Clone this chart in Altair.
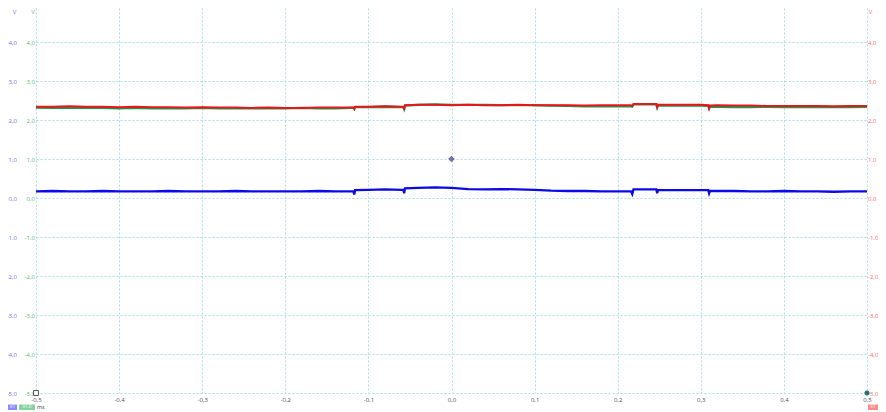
import altair as alt
import pandas as pd

# ---- data ----
time_ms = [-0.50, -0.48, -0.46, -0.44, -0.42, -0.40, -0.38, -0.36, -0.34, -0.32,
           -0.30, -0.28, -0.26, -0.24, -0.22, -0.20, -0.18, -0.16, -0.14, -0.12,
           -0.118, -0.117, -0.116,
           -0.10, -0.08, -0.06,
           -0.058, -0.057, -0.056,
           -0.04, -0.02, 0.00, 0.02, 0.04, 0.06, 0.08, 0.10, 0.12, 0.14, 0.16, 0.18, 0.20,
           0.216, 0.2175, 0.219,
           0.23, 0.24,
           0.2465, 0.2475, 0.2485,
           0.26, 0.28, 0.30,
           0.309, 0.310, 0.311,
           0.32, 0.34, 0.36, 0.38, 0.40, 0.42, 0.44, 0.46, 0.48, 0.50]

blue_v = [0.17, 0.18, 0.17, 0.17, 0.18, 0.17, 0.17, 0.17, 0.18, 0.17,
          0.17, 0.17, 0.18, 0.17, 0.17, 0.17, 0.17, 0.18, 0.17, 0.17,
          0.17, 0.09, 0.20,
          0.21, 0.22, 0.21,
          0.21, 0.12, 0.25,
          0.26, 0.27, 0.26, 0.23, 0.22, 0.23, 0.22, 0.21, 0.19, 0.18, 0.18, 0.17, 0.17,
          0.17, 0.10, 0.22,
          0.22, 0.22,
          0.22, 0.12, 0.20,
          0.20, 0.20, 0.20,
          0.20, 0.12, 0.18,
          0.18, 0.18, 0.17, 0.17, 0.18, 0.17, 0.17, 0.16, 0.17, 0.17]

green_v = [2.32, 2.31, 2.31, 2.31, 2.31, 2.30, 2.31, 2.30, 2.30, 2.30,
           2.31, 2.30, 2.30, 2.30, 2.30, 2.30, 2.31, 2.30, 2.30, 2.31,
           2.31, 2.28, 2.33,
           2.33, 2.34, 2.33,
           2.33, 2.28, 2.37,
           2.39, 2.40, 2.39, 2.39, 2.39, 2.38, 2.38, 2.38, 2.37, 2.36, 2.35, 2.35, 2.35,
           2.35, 2.34, 2.40,
           2.40, 2.40,
           2.40, 2.32, 2.37,
           2.37, 2.37, 2.37,
           2.36, 2.30, 2.34,
           2.34, 2.33, 2.33, 2.34, 2.33, 2.33, 2.34, 2.33, 2.33, 2.34]

red_v = [2.34, 2.34, 2.35, 2.34, 2.34, 2.33, 2.34, 2.33, 2.33, 2.32,
         2.33, 2.32, 2.32, 2.31, 2.32, 2.31, 2.31, 2.32, 2.32, 2.32,
         2.32, 2.29, 2.34,
         2.34, 2.35, 2.34,
         2.34, 2.27, 2.38,
         2.39, 2.39, 2.38, 2.39, 2.38, 2.38, 2.39, 2.38, 2.38, 2.38, 2.37, 2.38, 2.38,
         2.38, 2.36, 2.41,
         2.41, 2.41,
         2.41, 2.33, 2.39,
         2.39, 2.39, 2.39,
         2.38, 2.30, 2.37,
         2.38, 2.37, 2.37, 2.36, 2.36, 2.36, 2.36, 2.35, 2.36, 2.36]

marker_t = [0.0, -0.5, 0.5]
marker_v = [1.0, -5.0, -5.0]
marker_kind = ["trigger", "start", "end"]

x_ticks = [-0.5, -0.4, -0.3, -0.2, -0.1, 0.0, 0.1, 0.2, 0.3, 0.4, 0.5]
y_ticks = [-5, -4, -3, -2, -1, 0, 1, 2, 3, 4]

# ---- chart ----
W, H = 831, 385
PX_PER_V = 39.0
Y_DOMAIN = [-5.0, -5.0 + H / PX_PER_V]
FONT = "Open Sans"
GRID = "#a9dfe6"

df = pd.DataFrame({"t": time_ms, "blue": blue_v, "green": green_v, "red": red_v})
mk = pd.DataFrame({"t": marker_t, "v": marker_v, "kind": marker_kind})

lab = "(datum.value < 0 ? '-' : '') + replace(format(abs(datum.value), '.1f'), '.', ',')"

x_enc = alt.X("t:Q", scale=alt.Scale(domain=[-0.5, 0.5], nice=False, zero=False),
              axis=alt.Axis(values=x_ticks, labelExpr=lab, grid=True, gridColor=GRID,
                            gridDash=[2, 2], gridWidth=1, domain=False, ticks=False,
                            labelPadding=3, labelFontSize=6, labelFont=FONT,
                            labelColor="#505050", title=None, labelFlush=False,
                            labelOverlap=False))

def yaxis(orient, offset, color, grid, pad=1.5):
    return alt.Axis(orient=orient, offset=offset, values=y_ticks, labelExpr=lab,
                    grid=grid, gridColor=GRID, gridDash=[2, 2], gridWidth=1,
                    domain=False, ticks=False, labelPadding=pad, labelFontSize=6,
                    labelFont=FONT, labelColor=color, title=None, labelFlush=False,
                    labelOverlap=False)

yscale = alt.Scale(domain=Y_DOMAIN, nice=False, zero=False)

blue = alt.Chart(df).mark_line(color="#0a0ae6", strokeWidth=2.3).encode(
    x=x_enc, y=alt.Y("blue:Q", scale=yscale, axis=yaxis("left", 18, "#6f6ff5", False)))
green = alt.Chart(df).mark_line(color="#1c9a4e", strokeWidth=2.3).encode(
    x=x_enc, y=alt.Y("green:Q", scale=yscale, axis=yaxis("left", 0, "#55bf7a", True)))
red = alt.Chart(df).mark_line(color="#e8161c", strokeWidth=2.0).encode(
    x=x_enc, y=alt.Y("red:Q", scale=yscale, axis=yaxis("right", 0, "#ff6b6b", False, 0.5)))

markers = alt.Chart(mk).mark_point(filled=True, strokeWidth=1, opacity=1).encode(
    x=x_enc,
    y=alt.Y("v:Q", scale=yscale, axis=None),
    shape=alt.Shape("kind:N", scale=alt.Scale(domain=["trigger", "start", "end"],
                                              range=["diamond", "square", "circle"]), legend=None),
    fill=alt.Fill("kind:N", scale=alt.Scale(domain=["trigger", "start", "end"],
                                            range=["#7a70b2", "#ffffff", "#1d6e70"]), legend=None),
    stroke=alt.Stroke("kind:N", scale=alt.Scale(domain=["trigger", "start", "end"],
                                                range=["#6a60a0", "#505050", "#1d6e70"]), legend=None),
    size=alt.Size("kind:N", scale=alt.Scale(domain=["trigger", "start", "end"],
                                            range=[30, 18, 40]), legend=None),
)

# unit labels
def unit(xp, color):
    return alt.Chart(pd.DataFrame({"u": ["V"]})).mark_text(
        fontSize=6, font=FONT, color=color, align="center", baseline="middle").encode(
        text="u:N", x=alt.value(xp), y=alt.value(4))

units = unit(-21.5, "#6f6ff5") + unit(-3, "#55bf7a") + unit(834.5, "#ff6b6b")

# bottom badges
def badge(x0, x1, color, txt):
    r = alt.Chart(pd.DataFrame({"b": [txt]})).mark_rect(color=color).encode(
        x=alt.value(x0), x2=alt.value(x1), y=alt.value(396.5), y2=alt.value(402))
    t = alt.Chart(pd.DataFrame({"b": [txt]})).mark_text(
        fontSize=4.5, font=FONT, color="white", align="center", baseline="middle").encode(
        text="b:N", x=alt.value((x0 + x1) / 2), y=alt.value(399.3))
    return r + t

badges = (badge(-28, -19, "#8a8aff", "x1") + badge(-17, -1, "#86d3a2", "x1.0")
          + badge(832, 842, "#ff8a8a", "x1"))
ms_label = alt.Chart(pd.DataFrame({"m": ["ms"]})).mark_text(
    fontSize=5.5, font=FONT, color="#404040", align="left", baseline="middle").encode(
    text="m:N", x=alt.value(1), y=alt.value(399.3))

chart = alt.layer(blue, green, red, markers, units, badges, ms_label).resolve_scale(
    y="independent").properties(
    width=W, height=H,
    autosize=alt.AutoSizeParams(type="none"),
    padding={"left": 28, "top": 0, "right": 11, "bottom": 19},
    background="white",
).configure_view(stroke=None)

chart.save("out.html", embed_options={"renderer": "svg", "actions": False})
